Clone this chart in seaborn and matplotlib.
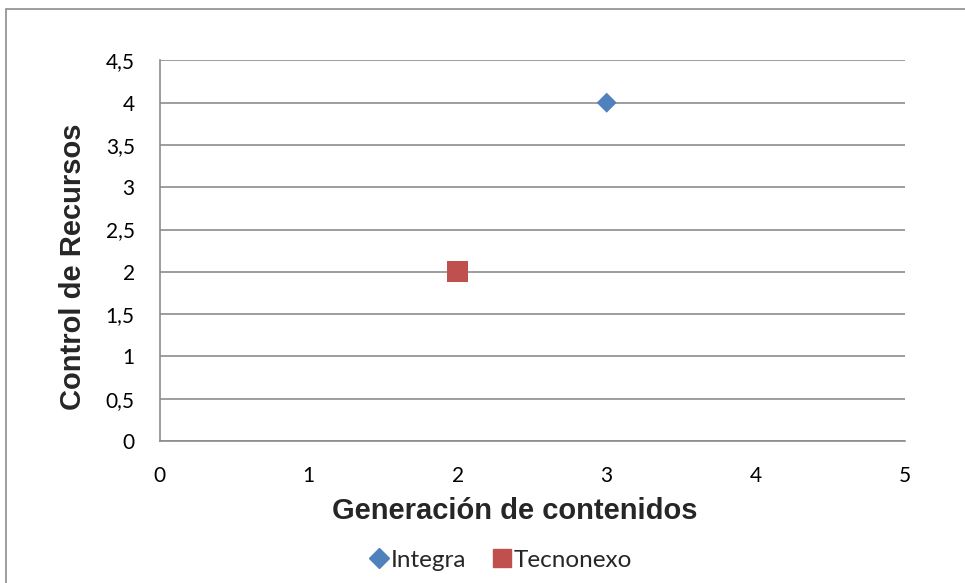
import matplotlib
matplotlib.use('Agg')
import matplotlib.pyplot as plt
import seaborn as sns
import pandas as pd
from matplotlib.patches import Rectangle
from matplotlib.lines import Line2D

# Datos
empresas = ['Integra', 'Tecnonexo']
generacion = [3, 2]
control = [4, 2]
colores = ['#4F81BD', '#C0504D']
marcadores = ['D', 's']

x_ticks = [0, 1, 2, 3, 4, 5]
y_ticks = [0, 0.5, 1, 1.5, 2, 2.5, 3, 3.5, 4, 4.5]
y_labels = ['0', '0,5', '1', '1,5', '2', '2,5', '3', '3,5', '4', '4,5']

df = pd.DataFrame({'Empresa': empresas, 'Generacion': generacion, 'Control': control})

sns.set_style('white')
plt.rcParams['font.family'] = ['Lato', 'DejaVu Sans']

fig = plt.figure(figsize=(9.65, 5.83), dpi=100)
ax = fig.add_axes([0.1655, 0.2436, 0.772, 0.6528])

# borde del area del grafico
fig.patches.append(Rectangle((6 / 965, -0.05), 1.05, 1 - 9 / 583 + 0.05,
                             transform=fig.transFigure, fill=False,
                             edgecolor='#8C8C8C', linewidth=1.2))

ax.yaxis.grid(True, color='#8C8C8C', linewidth=1.2)
ax.set_axisbelow(True)

sns.scatterplot(data=df, x='Generacion', y='Control', hue='Empresa', style='Empresa',
                palette=dict(zip(empresas, colores)),
                markers=dict(zip(empresas, marcadores)),
                s=200, linewidth=0, ax=ax, zorder=3, legend=False)
# el diamante se ve un poco menor que el cuadrado
ax.collections[0].set_sizes([104, 228])

ax.set_xlim(0, 5)
ax.set_ylim(0, 4.5)
ax.set_xticks(x_ticks)
ax.set_xticklabels([str(t) for t in x_ticks])
ax.set_yticks(y_ticks)
ax.set_yticklabels(y_labels)
ax.tick_params(axis='both', labelsize=15, colors='black', length=5, width=1.2,
               direction='out')
ax.tick_params(axis='y', pad=13)
ax.tick_params(axis='x', pad=13)
ax.tick_params(axis='both', color='#8C8C8C')
for side in ['top', 'right']:
    ax.spines[side].set_visible(False)
for side in ['left', 'bottom']:
    ax.spines[side].set_color('#8C8C8C')
    ax.spines[side].set_linewidth(1.2)

ax.set_xlabel('Generación de contenidos', fontsize=21, fontweight='bold',
              family='Liberation Sans')
ax.set_ylabel('Control de Recursos', fontsize=21, fontweight='bold',
              family='Liberation Sans')
ax.xaxis.label.set_va('center')
ax.yaxis.label.set_va('center')
ax.xaxis.set_label_coords(0.476, -0.184)
ax.yaxis.set_label_coords(-0.117, 0.457)

handles = [Line2D([], [], linestyle='none', marker=m, color=c, markersize=12.5 if m == 's' else 10)
           for m, c in zip(marcadores, colores)]
ax.legend(handles, empresas, loc='center', bbox_to_anchor=(0.457, -0.313), ncol=2,
          frameon=False, fontsize=17.5, handletextpad=0.05, columnspacing=1.0,
          handlelength=0.9)

fig.savefig('out.png', dpi=100)
